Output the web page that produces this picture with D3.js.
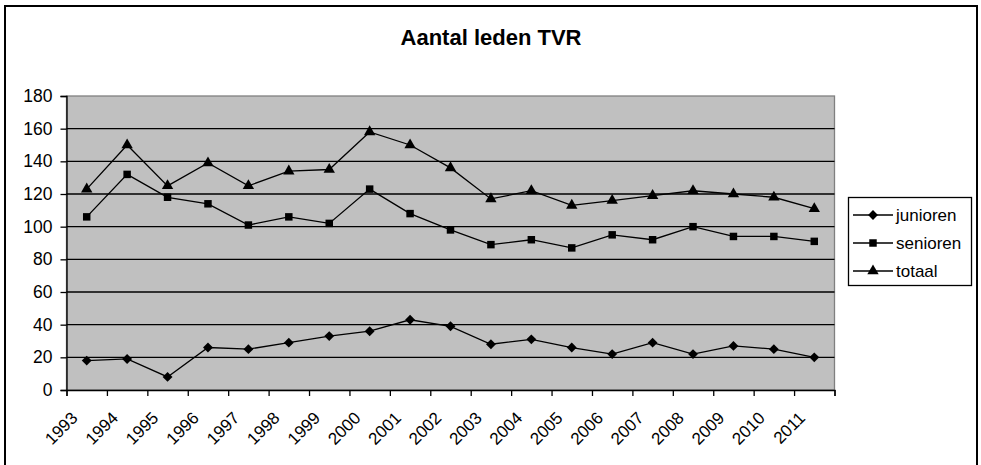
<!DOCTYPE html>
<html>
<head>
<meta charset="utf-8">
<script src="https://cdn.jsdelivr.net/npm/d3@7"></script>
<style>
  body { margin: 0; background: #fff; }
  svg text { font-family: "Liberation Sans", Arial, sans-serif; fill: #000; }
</style>
</head>
<body>
<svg id="chart" width="981" height="465"></svg>
<script>
// data
const years = ["1993","1994","1995","1996","1997","1998","1999","2000","2001","2002",
               "2003","2004","2005","2006","2007","2008","2009","2010","2011"];
const junioren = [18, 19, 8, 26, 25, 29, 33, 36, 43, 39, 28, 31, 26, 22, 29, 22, 27, 25, 20];
const senioren = [106, 132, 118, 114, 101, 106, 102, 123, 108, 98, 89, 92, 87, 95, 92, 100, 94, 94, 91];
const totaal   = [123, 150, 125, 139, 125, 134, 135, 158, 150, 136, 117, 122, 113, 116, 119, 122, 120, 118, 111];
const yTicks = [0, 20, 40, 60, 80, 100, 120, 140, 160, 180];

const seriesNames = ["junioren", "senioren", "totaal"];
const seriesValues = [junioren, senioren, totaal];
const markers = [d3.symbolDiamond2, d3.symbolSquare, d3.symbolTriangle];
const markerSizes = [62, 56, 56];

const svg = d3.select("#chart");

// outer chart frame
svg.append("rect")
   .attr("x", 5).attr("y", 6)
   .attr("width", 972).attr("height", 470)
   .attr("fill", "#fff")
   .attr("stroke", "#000")
   .attr("stroke-width", 2);

// title
svg.append("text")
   .attr("x", 491).attr("y", 45)
   .attr("text-anchor", "middle")
   .style("font-size", "22px")
   .style("font-weight", "bold")
   .text("Aantal leden TVR");

const plot = {left: 66.5, right: 834.5, top: 96, bottom: 390};

const x = d3.scaleBand()
            .domain(years)
            .range([plot.left, plot.right]);

const xEdge = d3.scaleLinear()
                .domain([0, years.length])
                .range([plot.left, plot.right]);

const y = d3.scaleLinear()
            .domain([0, 180])
            .range([plot.bottom, plot.top]);

// plot background
svg.append("rect")
   .attr("x", plot.left).attr("y", plot.top)
   .attr("width", plot.right - plot.left)
   .attr("height", plot.bottom - plot.top)
   .attr("fill", "#c0c0c0")
   .attr("stroke", "#808080")
   .attr("stroke-width", 1.3);

// gridlines
svg.append("g")
   .selectAll("line")
   .data(yTicks.filter(d => d > 0 && d < 180))
   .enter().append("line")
   .attr("x1", plot.left).attr("x2", plot.right)
   .attr("y1", d => y(d)).attr("y2", d => y(d))
   .attr("stroke", "#000")
   .attr("stroke-width", 1.3);

// y axis
const yAxis = svg.append("g")
   .attr("transform", `translate(${plot.left},0)`)
   .call(d3.axisLeft(y).tickValues(yTicks).tickSize(6).tickPadding(8));

yAxis.selectAll("text").style("font-size", "17.5px");

// x axis: ticks on the category edges
svg.append("g")
   .attr("transform", `translate(0,${plot.bottom})`)
   .call(d3.axisBottom(xEdge).tickValues(d3.range(years.length + 1)).tickSize(6).tickFormat(""));

// x labels, rotated
const xLabels = svg.append("g")
   .attr("transform", `translate(0,${plot.bottom})`)
   .call(d3.axisBottom(x).tickSize(0).tickPadding(0));
xLabels.select(".domain").remove();
xLabels.selectAll("text")
   .style("font-size", "17px")
   .attr("text-anchor", "end")
   .attr("y", 0).attr("dy", 0)
   .attr("transform", "translate(-8,29) rotate(-45)");

svg.selectAll(".domain, .tick line")
   .attr("stroke", "#000")
   .attr("stroke-width", 1.3);

// lines and markers
const line = d3.line()
   .x((d, i) => x(years[i]) + x.bandwidth() / 2)
   .y(d => y(d));

seriesValues.forEach((vals, s) => {
    svg.append("path")
       .datum(vals)
       .attr("d", line)
       .attr("fill", "none")
       .attr("stroke", "#000")
       .attr("stroke-width", 1.3);

    svg.append("g")
       .selectAll("path")
       .data(vals)
       .enter().append("path")
       .attr("d", d3.symbol().type(markers[s]).size(markerSizes[s]))
       .attr("transform", (d, i) => `translate(${x(years[i]) + x.bandwidth() / 2},${y(d)})`)
       .attr("fill", "#000");
});

// legend
const legend = svg.append("g");
legend.append("rect")
   .attr("x", 848.5).attr("y", 197.5)
   .attr("width", 123).attr("height", 88)
   .attr("fill", "#fff")
   .attr("stroke", "#000")
   .attr("stroke-width", 1.3);

const legendItem = legend.selectAll(".item")
   .data(seriesNames)
   .enter().append("g")
   .attr("class", "item")
   .attr("transform", (d, i) => `translate(0,${215 + i * 28})`);

legendItem.append("line")
   .attr("x1", 853).attr("x2", 893)
   .attr("stroke", "#000")
   .attr("stroke-width", 1.3);

legendItem.append("path")
   .attr("d", (d, i) => d3.symbol().type(markers[i]).size(markerSizes[i])())
   .attr("transform", "translate(873,0)")
   .attr("fill", "#000");

legendItem.append("text")
   .attr("x", 896)
   .attr("dy", "0.35em")
   .style("font-size", "17px")
   .text(d => d);
</script>
</body>
</html>
